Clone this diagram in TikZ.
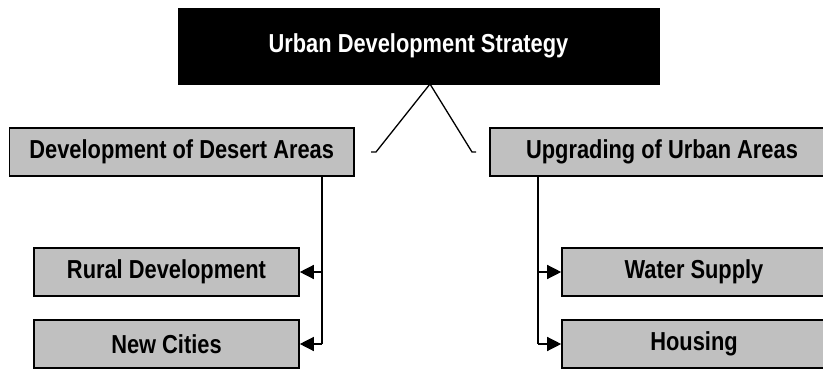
\documentclass[tikz,border=0pt]{standalone}
\usepackage{fontspec}
\newfontfamily\narrowfont[FakeStretch=0.84]{Liberation Sans}
\usetikzlibrary{arrows.meta}
\definecolor{boxgray}{HTML}{C0C0C0}
\tikzset{
  box/.style={draw=black, line width=1.6pt, fill=boxgray, inner sep=0pt,
    font=\narrowfont\bfseries\fontsize{26}{30}\selectfont, text=black},
  topbox/.style={draw=black, fill=black, inner sep=0pt,
    font=\narrowfont\bfseries\fontsize{26}{30}\selectfont, text=white},
  conn/.style={draw=black, line width=1.3pt},
  arr/.style={conn, -{Triangle[length=14pt,width=14pt]}}
}
\begin{document}
\begin{tikzpicture}[x=1pt,y=-1pt]
\clip (0,0) rectangle (823,369);
\fill[white] (0,0) rectangle (823,369);
\node[topbox, minimum width=481pt, minimum height=76pt] (top) at (418.5,46) {Urban Development Strategy};
\node[box, minimum width=344.5pt, minimum height=48pt] (desert) at (181.75,152) {Development of Desert Areas};
\node[box, minimum width=344pt, minimum height=48pt] (urban) at (662,152) {Upgrading of Urban Areas};
\node[box, minimum width=265pt, minimum height=48pt] (rural) at (166.5,272) {Rural Development};
\node[box, minimum width=265pt, minimum height=48pt] (cities) at (166.5,344) {New Cities};
\node[box, minimum width=264pt, minimum height=48pt] (water) at (694,272) {Water Supply};
\node[box, minimum width=264pt, minimum height=48pt] (housing) at (694,344) {Housing};
% V connector
\coordinate (apex) at (430,84);
\coordinate (vl) at (376,152);
\coordinate (vlt) at (371,152);
\coordinate (vr) at (472,152);
\coordinate (vrt) at (476,152);
\draw[conn] (vlt) -- (vl) -- (apex) -- (vr) -- (vrt);
% left tree
\coordinate (lt) at (322,176);
\coordinate (lb) at (322,344);
\draw[conn] (lt) -- (lb);
\draw[arr] (lt |- rural.east) -- (rural.east);
\draw[arr] (lb) -- (cities.east);
% right tree
\coordinate (rt) at (538,176);
\coordinate (rb) at (538,344);
\draw[conn] (rt) -- (rb);
\draw[arr] (rt |- water.west) -- (water.west);
\draw[arr] (rb) -- (housing.west);
\end{tikzpicture}
\end{document}
